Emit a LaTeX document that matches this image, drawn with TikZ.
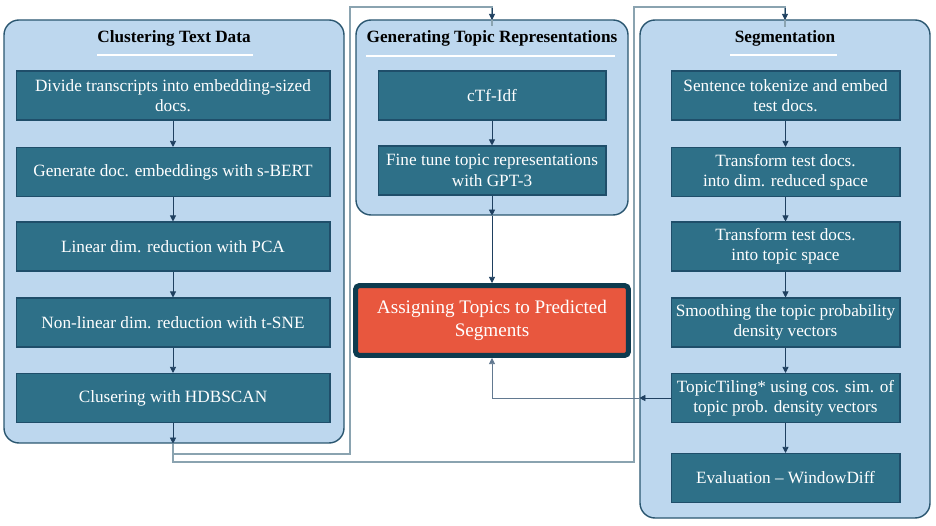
\documentclass[tikz,border=0pt]{standalone}
\usepackage{fontspec}
\setmainfont{Liberation Serif}
\usetikzlibrary{arrows.meta,positioning,fit}

\definecolor{panelfill}{HTML}{BDD7EE}
\definecolor{paneldraw}{HTML}{2A5670}
\definecolor{boxfill}{HTML}{2E7088}
\definecolor{boxdraw}{HTML}{1F4E6A}
\definecolor{redfill}{HTML}{E8573E}
\definecolor{reddraw}{HTML}{0D3B4F}
\definecolor{linkdark}{HTML}{1F4060}
\definecolor{linklight}{HTML}{8AA3B0}

\tikzset{
  panel/.style={draw=paneldraw, fill=panelfill, line width=0.8pt, rounded corners=0.3cm, inner sep=0pt},
  paneltitle/.style={font=\fontsize{9.8}{11}\selectfont\bfseries, text=black},
  stepbox/.style={draw=boxdraw, fill=boxfill, line width=0.6pt, text=white, align=center,
    font=\fontsize{9.8}{11.6}\selectfont, inner sep=0pt},
  assignbox/.style={draw=reddraw, fill=redfill, line width=0.1cm, rounded corners=0.08cm, text=white,
    align=center, font=\fontsize{10.9}{13}\selectfont, inner sep=0pt},
  link/.style={draw=linkdark, line width=0.5pt, -{Triangle[length=3.5pt,width=3.5pt]}},
  route/.style={draw=linklight, line width=0.7pt},
}

\begin{document}
\begin{tikzpicture}[x=0.02cm, y=-0.02cm]
  \useasboundingbox (0,0) rectangle (936,526);

  %% panels
  \node[panel, fit={(4,20) (344,443)}] (clus) {};
  \node[panel, fit={(356,20) (628,215)}] (gen) {};
  \node[panel, fit={(640,20) (930,518)}] (seg) {};

  %% panel titles
  \node[paneltitle] (clustitle) at (174,38) {Clustering Text Data};
  \node[paneltitle] (gentitle) at (492,38) {Generating Topic Representations};
  \node[paneltitle] (segtitle) at (785,38) {Segmentation};
  \draw[white, line width=1pt] (97,55) -- (253,55);
  \draw[white, line width=1pt] (366,56) -- (615,56);
  \draw[white, line width=1pt] (730,55) -- (837,55);

  %% clustering steps
  \node[stepbox, minimum width=6.28cm, minimum height=0.98cm] (c1) at (173,95.5) {Divide transcripts into embedding-sized\\docs.};
  \node[stepbox, minimum width=6.28cm, minimum height=0.98cm] (c2) at (173,172) {Generate doc. embeddings with s-BERT};
  \node[stepbox, minimum width=6.28cm, minimum height=0.98cm] (c3) at (173,246.5) {Linear dim. reduction with PCA};
  \node[stepbox, minimum width=6.28cm, minimum height=0.98cm] (c4) at (173,322.5) {Non-linear dim. reduction with t-SNE};
  \node[stepbox, minimum width=6.28cm, minimum height=0.98cm] (c5) at (173,398) {Clusering with HDBSCAN};

  %% topic representation steps
  \node[stepbox, minimum width=4.56cm, minimum height=0.98cm] (g1) at (492,95.5) {cTf-Idf};
  \node[stepbox, minimum width=4.56cm, minimum height=0.98cm] (g2) at (492,170.5) {Fine tune topic representations\\with GPT-3};

  %% segmentation steps
  \node[stepbox, minimum width=4.58cm, minimum height=0.98cm] (s1) at (785.5,95.5) {Sentence tokenize and embed\\test docs.};
  \node[stepbox, minimum width=4.58cm, minimum height=0.98cm] (s2) at (785.5,172) {Transform test docs.\\into dim. reduced space};
  \node[stepbox, minimum width=4.58cm, minimum height=0.98cm] (s3) at (785.5,246.5) {Transform test docs.\\into topic space};
  \node[stepbox, minimum width=4.58cm, minimum height=0.98cm] (s4) at (785.5,322.5) {Smoothing the topic probability\\density vectors};
  \node[stepbox, minimum width=4.58cm, minimum height=0.98cm] (s5) at (785.5,398) {TopicTiling* using cos. sim. of\\topic prob. density vectors};
  \node[stepbox, minimum width=4.58cm, minimum height=0.98cm] (s6) at (785.5,478) {Evaluation -- WindowDiff};

  %% result
  \node[assignbox, minimum width=5.46cm, minimum height=1.4cm] (assign) at (492,320.5) {Assigning Topics to Predicted\\Segments};

  %% routes between panels
  \coordinate (lout) at (c5.south |- clus.south);
  \coordinate (gtop) at (350,7);
  \coordinate (stop) at (634,7);
  \draw[route] (lout) |- (350,454) -- (gtop) -| ([yshift=-4pt]gen.north);
  \draw[route] (lout) |- (634,462) -- (stop) -| ([yshift=-4pt]785,20);
  \draw[link] (785,8) -- (785,20);
  \draw[link] (492,8) -- (492,20);

  %% links inside panels
  \foreach \a/\b in {c1/c2,c2/c3,c3/c4,c4/c5,g1/g2,s1/s2,s2/s3,s3/s4,s4/s5,s5/s6}
    \draw[link] (\a.south) -- (\b.north);
  \draw[link] (c5.south) -- (lout);
  \coordinate (gout) at (g2.south |- gen.south);
  \draw[link] (g2.south) -- (gout);
  \draw[link] (gout) -- (assign.north);
  \coordinate (sout) at (seg.west |- s5.west);
  \draw[link] (s5.west) -- (sout);
  \draw[link, draw=linkdark!70] (sout) -| (assign.south);
\end{tikzpicture}
\end{document}
